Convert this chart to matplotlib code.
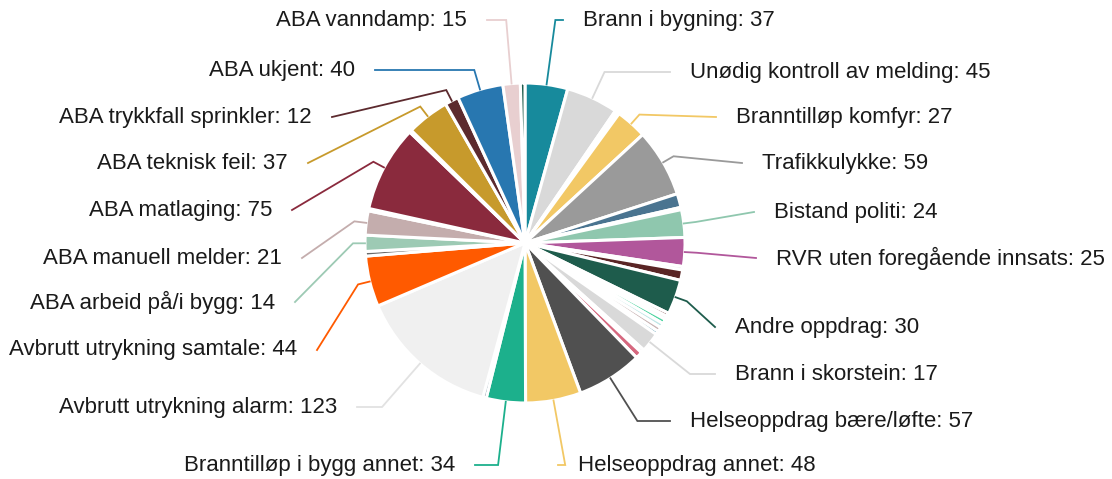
import numpy as np
import matplotlib
matplotlib.use('Agg')
import matplotlib.pyplot as plt

plt.rcParams['font.family'] = ['Liberation Sans', 'DejaVu Sans']

# slices, clockwise from 12 o'clock; '' = small slice without label
names = ['Brann i bygning', 'Unødig kontroll av melding', '', '', 'Branntilløp komfyr',
         'Trafikkulykke', '', '', 'Bistand politi', 'RVR uten foregående innsats',
         '', '', 'Andre oppdrag', '', '', '', '', '', '', 'Brann i skorstein', '', '',
         'Helseoppdrag bære/løfte', 'Helseoppdrag annet', 'Branntilløp i bygg annet', '',
         'Avbrutt utrykning alarm', 'Avbrutt utrykning samtale', '', 'ABA arbeid på/i bygg',
         'ABA manuell melder', '', 'ABA matlaging', '', 'ABA teknisk feil',
         'ABA trykkfall sprinkler', 'ABA ukjent', 'ABA vanndamp', '']
values = [37, 45, 2, 2, 27,
          59, 12, 2, 24, 25,
          3, 9, 30, 3, 3, 4, 4, 4, 3, 17, 3, 6,
          57, 48, 34, 3,
          123, 44, 4, 14,
          21, 2, 75, 2, 37,
          12, 40, 15, 4]
colors = ['#178a9c', '#d9d9d9', '#b05a9c', '#e0a0b0', '#f2c865',
          '#9a9a9a', '#4a7490', '#f0f0f0', '#8fc7ae', '#b1579b',
          '#e6e6e6', '#5a2525', '#1e5c4c', '#6b2a2a', '#f3f3f3', '#4dd4a0', '#bfe6e6',
          '#c8b4b4', '#2e7d9a', '#d9d9d9', '#f5f5f5', '#d6687f',
          '#505050', '#f2c865', '#1cb08c', '#4d6a80',
          '#f0f0f0', '#ff5a00', '#6a6a6a', '#9dcab4',
          '#c4adad', '#e0b0c0', '#8a2a3d', '#e8b8c8', '#c79a2c',
          '#5c2a2e', '#2877b0', '#e8cfd0', '#1e5c4c']

# label text anchors in pixels (x = start for right side, end for left side), y = centre
label_pos = {
    'Brann i bygning': (583, 20), 'Unødig kontroll av melding': (690, 72),
    'Branntilløp komfyr': (736, 117), 'Trafikkulykke': (762, 163),
    'Bistand politi': (774, 212), 'RVR uten foregående innsats': (776, 258),
    'Andre oppdrag': (735, 327), 'Brann i skorstein': (735, 374),
    'Helseoppdrag bære/løfte': (690, 421), 'Helseoppdrag annet': (578, 465),
    'ABA vanndamp': (467, 20), 'ABA ukjent': (355, 70),
    'ABA trykkfall sprinkler': (312, 117), 'ABA teknisk feil': (288, 163),
    'ABA matlaging': (272, 210), 'ABA manuell melder': (282, 258),
    'ABA arbeid på/i bygg': (275, 302), 'Avbrutt utrykning samtale': (297, 350),
    'Avbrutt utrykning alarm': (337, 407), 'Branntilløp i bygg annet': (455, 465),
}

W, H = 1112, 479
cx, cy, R = 525, 243, 160

def to_data(px, py):
    return (px - cx) / R, (cy - py) / R

fig = plt.figure(figsize=(W / 100, H / 100), dpi=100)
ax = fig.add_axes([0, 0, 1, 1])
wedges, _ = ax.pie(values, colors=colors, startangle=90, counterclock=False, radius=1,
                   wedgeprops=dict(edgecolor='white', linewidth=2.2))
ax.set_xlim(-cx / R, (W - cx) / R)
ax.set_ylim((cy - H) / R, cy / R)
ax.set_aspect('equal')
ax.axis('off')

for w, name, v, c in zip(wedges, names, values, colors):
    if not name:
        continue
    t = np.deg2rad((w.theta1 + w.theta2) / 2)
    dx, dy = np.cos(t), -np.sin(t)
    ex, ey = cx + R * dx, cy + R * dy
    tx, ty = label_pos[name]
    ext = 12
    if abs(dy) > 1e-6:
        need = (ty - ey) / dy
        if 12 < need <= 70:
            ext = need
    bx, by = ex + ext * dx, ey + ext * dy
    right = tx > cx - 20 and name not in ('Branntilløp i bygg annet', 'ABA vanndamp')
    qx = tx - 20 if right else tx + 20
    pts = [to_data(ex, ey), to_data(bx, by), to_data(qx, ty)]
    lc = c if c not in ('#f0f0f0',) else '#e2e2e2'
    ax.plot([p[0] for p in pts], [p[1] for p in pts], color=lc, lw=1.3,
            solid_joinstyle='miter')
    x, y = to_data(tx, ty)
    ax.text(x, y, f'{name}: {v}', fontsize=16, color='#1a1a1a',
            ha='left' if right else 'right', va='center')

fig.savefig('out.png', dpi=100, facecolor='white')
